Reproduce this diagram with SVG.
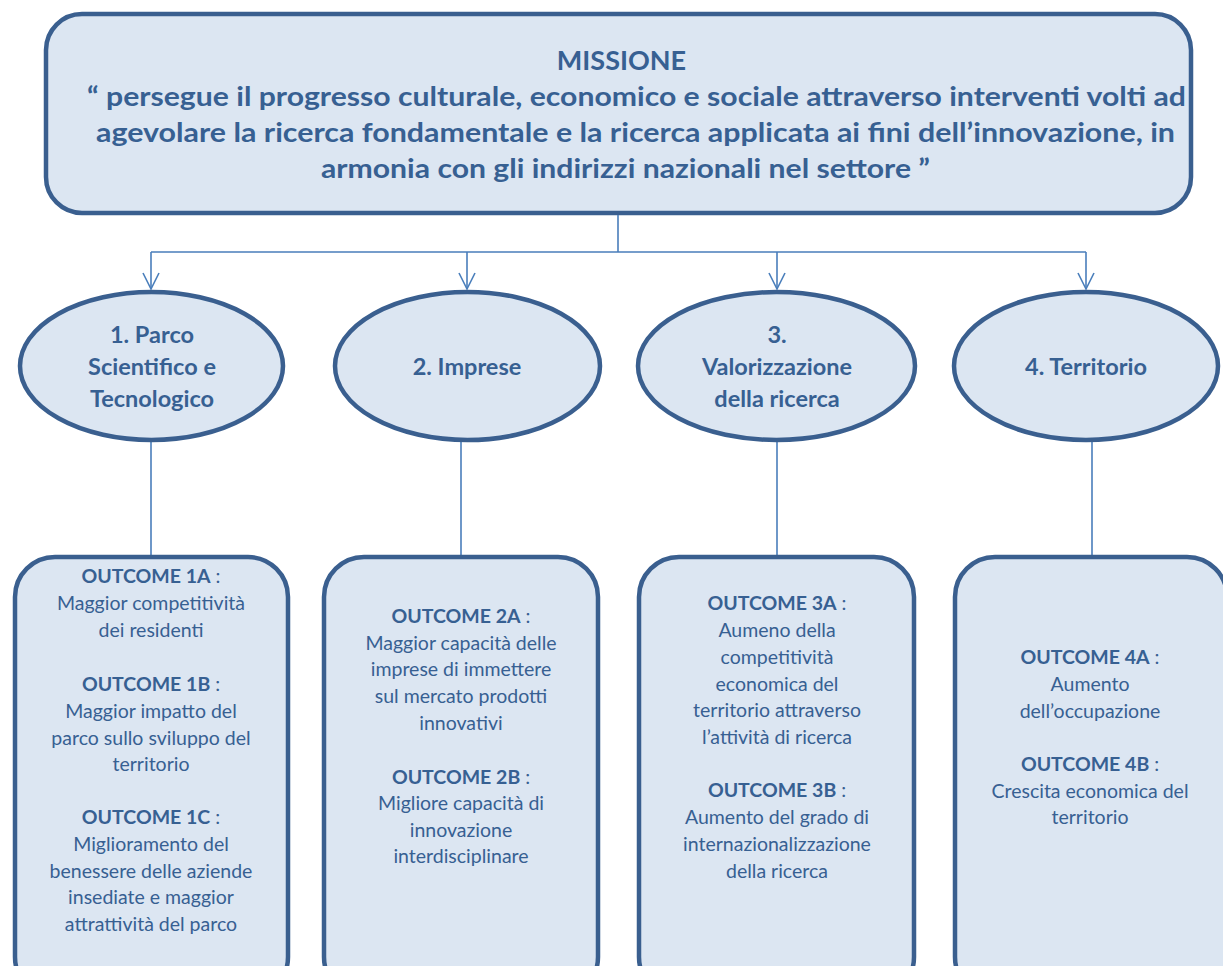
<svg xmlns="http://www.w3.org/2000/svg" width="1223" height="966" viewBox="0 0 1223 966">
  <defs>
    <marker id="open-arrow" viewBox="0 0 20 20" refX="18" refY="10" markerWidth="20" markerHeight="20" markerUnits="userSpaceOnUse" orient="auto">
      <path d="M2,2 L18,10 L2,18" fill="none" stroke="#4A7EBB" stroke-width="1.6"/>
    </marker>
    <style>
      .shape { fill: #DCE6F2; stroke: #3A5F8F; stroke-width: 4.5; }
      .link { fill: none; stroke: #4A7EBB; stroke-width: 1.6; }
      text { font-family: Lato, "Liberation Sans", sans-serif; fill: #376092; }
      .title { font-size: 27px; font-weight: bold; }
      .oval { font-size: 23.5px; font-weight: bold; text-anchor: middle; }
      .body { font-size: 19.5px; text-anchor: middle; }
      .b { font-weight: bold; }
    </style>
  </defs>

  <rect width="1223" height="966" fill="#FFFFFF"/>

  <!-- mission box -->
  <g id="missione">
    <rect class="shape" x="46" y="14" width="1145" height="199" rx="36" ry="36"/>
    <text class="title" x="621.5" y="70" text-anchor="middle">MISSIONE</text>
    <text class="title" x="87" y="106" textLength="1099" lengthAdjust="spacingAndGlyphs">“ persegue il progresso culturale, economico e sociale attraverso interventi volti ad</text>
    <text class="title" x="96" y="142" textLength="1079" lengthAdjust="spacingAndGlyphs">agevolare la ricerca fondamentale e la ricerca applicata ai fini dell’innovazione, in</text>
    <text class="title" x="321" y="178" textLength="609" lengthAdjust="spacingAndGlyphs">armonia con gli indirizzi nazionali nel settore ”</text>
  </g>

  <!-- connectors -->
  <g id="connectors">
    <path class="link" d="M618,215 V252 M151,252 H1086"/>
    <path class="link" d="M151,252 V289" marker-end="url(#open-arrow)"/>
    <path class="link" d="M467,252 V289" marker-end="url(#open-arrow)"/>
    <path class="link" d="M777,252 V289" marker-end="url(#open-arrow)"/>
    <path class="link" d="M1086,252 V289" marker-end="url(#open-arrow)"/>
    <path class="link" d="M151,442 V555"/>
    <path class="link" d="M461,442 V555"/>
    <path class="link" d="M777,442 V555"/>
    <path class="link" d="M1092,442 V555"/>
  </g>

  <!-- areas -->
  <g id="area-1">
    <ellipse class="shape" cx="151.5" cy="366" rx="131.5" ry="74"/>
    <text class="oval" x="152" y="343">1. Parco</text>
    <text class="oval" x="152" y="375">Scientifico e</text>
    <text class="oval" x="152" y="407">Tecnologico</text>
  </g>
  <g id="area-2">
    <ellipse class="shape" cx="467.5" cy="366" rx="132.5" ry="74"/>
    <text class="oval" x="467" y="375">2. Imprese</text>
  </g>
  <g id="area-3">
    <ellipse class="shape" cx="776.5" cy="366" rx="138.5" ry="74"/>
    <text class="oval" x="777" y="343">3.</text>
    <text class="oval" x="777" y="375">Valorizzazione</text>
    <text class="oval" x="777" y="407">della ricerca</text>
  </g>
  <g id="area-4">
    <ellipse class="shape" cx="1086" cy="366" rx="132" ry="74"/>
    <text class="oval" x="1086" y="375">4. Territorio</text>
  </g>

  <!-- outcomes -->
  <g id="outcomes-1">
    <rect class="shape" x="15" y="557" width="273" height="440" rx="40" ry="40"/>
    <text class="body" x="151" y="583"><tspan class="b">OUTCOME 1A</tspan> :</text>
    <text class="body" x="151" y="610">Maggior competitività</text>
    <text class="body" x="151" y="637">dei residenti</text>
    <text class="body" x="151" y="691"><tspan class="b">OUTCOME 1B</tspan> :</text>
    <text class="body" x="151" y="718">Maggior impatto del</text>
    <text class="body" x="151" y="745">parco sullo sviluppo del</text>
    <text class="body" x="151" y="771">territorio</text>
    <text class="body" x="151" y="824"><tspan class="b">OUTCOME 1C</tspan> :</text>
    <text class="body" x="151" y="851">Miglioramento del</text>
    <text class="body" x="151" y="878">benessere delle aziende</text>
    <text class="body" x="151" y="904">insediate e maggior</text>
    <text class="body" x="151" y="931">attrattività del parco</text>
  </g>
  <g id="outcomes-2">
    <rect class="shape" x="324" y="557" width="274" height="440" rx="40" ry="40"/>
    <text class="body" x="461" y="623"><tspan class="b">OUTCOME 2A</tspan> :</text>
    <text class="body" x="461" y="650">Maggior capacità delle</text>
    <text class="body" x="461" y="676">imprese di immettere</text>
    <text class="body" x="461" y="703">sul mercato prodotti</text>
    <text class="body" x="461" y="730">innovativi</text>
    <text class="body" x="461" y="784"><tspan class="b">OUTCOME 2B</tspan> :</text>
    <text class="body" x="461" y="810">Migliore capacità di</text>
    <text class="body" x="461" y="837">innovazione</text>
    <text class="body" x="461" y="863">interdisciplinare</text>
  </g>
  <g id="outcomes-3">
    <rect class="shape" x="639" y="557" width="275" height="440" rx="40" ry="40"/>
    <text class="body" x="777" y="610"><tspan class="b">OUTCOME 3A</tspan> :</text>
    <text class="body" x="777" y="637">Aumeno della</text>
    <text class="body" x="777" y="664">competitività</text>
    <text class="body" x="777" y="691">economica del</text>
    <text class="body" x="777" y="717">territorio attraverso</text>
    <text class="body" x="777" y="744">l’attività di ricerca</text>
    <text class="body" x="777" y="797"><tspan class="b">OUTCOME 3B</tspan> :</text>
    <text class="body" x="777" y="824">Aumento del grado di</text>
    <text class="body" x="777" y="851">internazionalizzazione</text>
    <text class="body" x="777" y="878">della ricerca</text>
  </g>
  <g id="outcomes-4">
    <rect class="shape" x="955" y="557" width="272" height="440" rx="40" ry="40"/>
    <text class="body" x="1090" y="664"><tspan class="b">OUTCOME 4A</tspan> :</text>
    <text class="body" x="1090" y="691">Aumento</text>
    <text class="body" x="1090" y="718">dell’occupazione</text>
    <text class="body" x="1090" y="771"><tspan class="b">OUTCOME 4B</tspan> :</text>
    <text class="body" x="1090" y="798">Crescita economica del</text>
    <text class="body" x="1090" y="824">territorio</text>
  </g>
</svg>
